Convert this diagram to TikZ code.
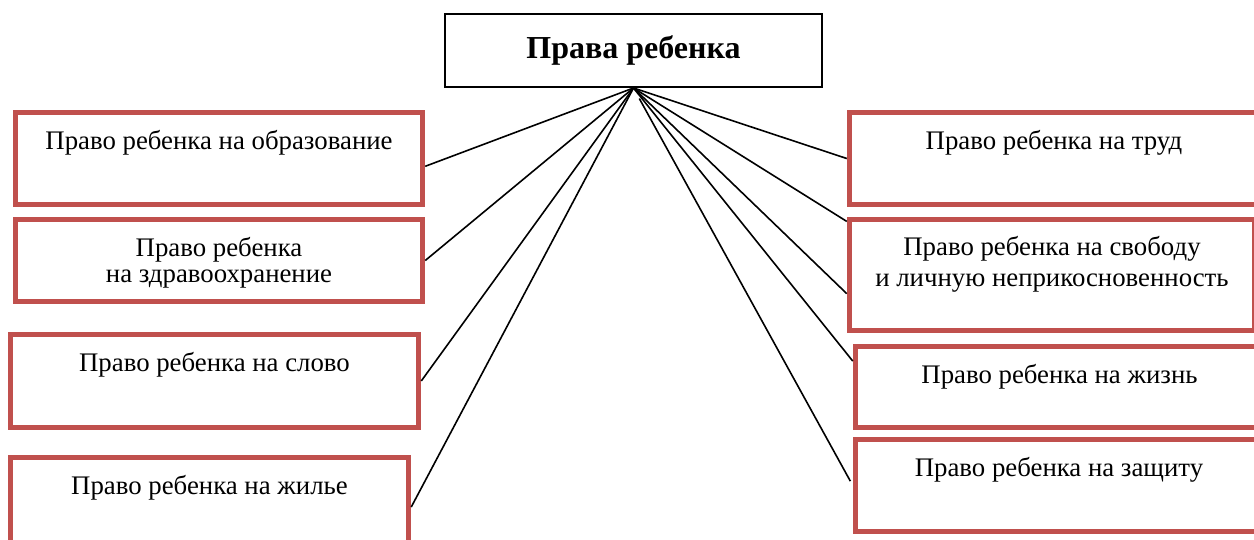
\documentclass[tikz,border=0pt]{standalone}
\usepackage{fontspec}
\setmainfont{Liberation Serif}
\usetikzlibrary{calc}
\definecolor{boxred}{HTML}{C0504D}
\tikzset{
    rights/.style={x=0.5pt,y=-0.5pt,line width=0.8pt},
    head/.style={draw, line width=1pt, minimum width=188.5pt, minimum height=36.5pt,
                     inner sep=0pt, font=\fontsize{16}{19}\selectfont\bfseries},
    item/.style={draw=boxred, line width=2.75pt, inner sep=0pt},
    itemtext/.style={anchor=base, inner sep=0pt, align=center, yshift=-19.9pt,
                     font=\fontsize{13.4}{15}\selectfont},
    }
\begin{document}
\begin{tikzpicture}[rights]
            \clip (0,0) rectangle (1254,540);
            \node[head] (head) at (633.5,50.5) {Права ребенка};

            % left column
            \node[item, minimum width=203.5pt, minimum height=46pt] (l1) at (219,158.5)
                [label={[itemtext]north:{Право ребенка на образование}}] {};
            \node[item, minimum width=203.5pt, minimum height=41pt] (l2) at (219,260.5)
                [label={[itemtext, yshift=-13pt, font=\fontsize{13.4}{13}\selectfont]north:{Право ребенка\\на здравоохранение}}] {};
            \node[item, minimum width=204pt, minimum height=46.5pt] (l3) at (214.5,381)
                [label={[itemtext]north:{Право ребенка на слово}}] {};
            \node[item, minimum width=199pt, minimum height=49.5pt] (l4) at (209.5,507)
                [label={[itemtext]north:{Право ребенка на жилье}}] {};

            % right column
            \node[item, minimum width=204.5pt, minimum height=46pt] (r1) at (1054,158.5)
                [label={[itemtext]north:{Право ребенка на труд}}] {};
            \node[item, minimum width=202.5pt, minimum height=55.5pt] (r2) at (1052,275)
                [label={[itemtext, yshift=-15pt, font=\fontsize{13.4}{15.5}\selectfont]north:{Право ребенка на свободу\\и личную неприкосновенность}}] {};
            \node[item, minimum width=204pt, minimum height=40.5pt] (r3) at (1059.5,387)
                [label={[itemtext]north:{Право ребенка на жизнь}}] {};
            \node[item, minimum width=203.5pt, minimum height=46pt] (r4) at (1059,485.5)
                [label={[itemtext]north:{Право ребенка на защиту}}] {};

            \coordinate (l1in) at ($(l1.north east)!0.58!(l1.south east)$);
            \coordinate (r2top) at ($(r2.north west)!0.04!(r2.south west)$);
            \coordinate (r2low) at ($(r2.north west)!0.66!(r2.south west)$);
            \coordinate (r3in) at ($(r3.north west)!0.2!(r3.south west)$);

            \path (head.south) edge[] (l1in);
            \path (head.south) edge[] (l2.east);
            \path (head.south) edge[] (l3.east);
            \path (head.south) edge[] (l4.east);
            \path (head.south) edge[] (r1.west);
            \path (head.south) edge[] (r2top);
            \path (head.south) edge[] (r2low);
            \path (head.south) edge[] (r3in);
            \path (head.south) edge[shorten <=6pt, shorten >=2.5pt] (r4.west);
        \end{tikzpicture}
\end{document}
